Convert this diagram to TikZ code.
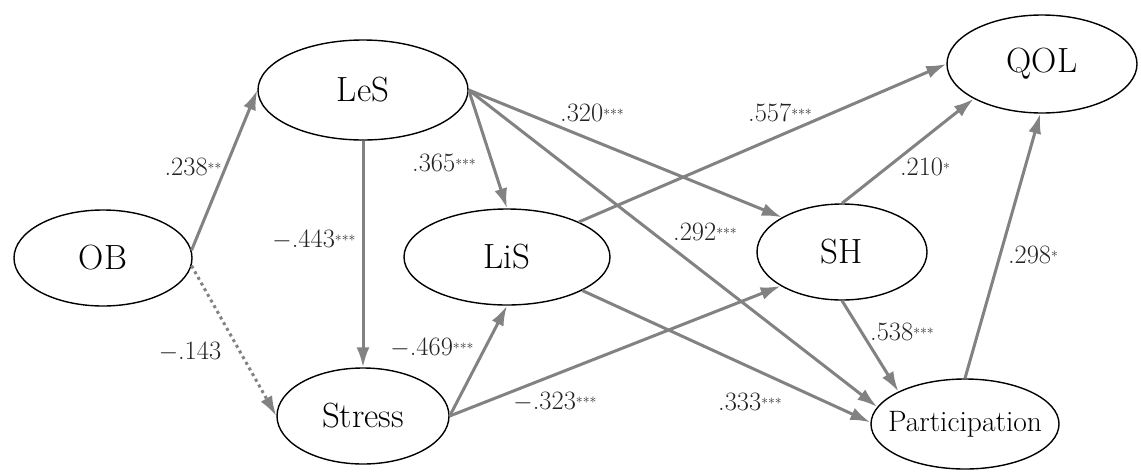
\documentclass[tikz,border=0pt]{standalone}
\usetikzlibrary{shapes.geometric,arrows.meta}
\definecolor{arrgray}{RGB}{130,130,130}
\definecolor{lblgray}{RGB}{35,35,35}
\newcommand\sigstar[1]{\raisebox{2pt}{\fontsize{14}{14}\selectfont #1}}
\begin{document}
\begin{tikzpicture}[x=1pt,y=-1pt,
  lat/.style={ellipse, draw=black, line width=1.4pt, inner sep=0pt,
    font=\fontsize{35}{35}\selectfont},
  arr/.style={draw=arrgray, line width=3pt, line cap=butt,
    -{Latex[length=20pt,width=13pt]}},
  lbl/.style={font=\fontsize{26.5}{26.5}\selectfont, text=lblgray, inner sep=0pt}]
\useasboundingbox (0,0) rectangle (1141,472);
% latent variables
\node[lat, minimum width=178pt, minimum height=96pt] (OB) at (103,258) {OB};
\node[lat, minimum width=210pt, minimum height=100pt] (LeS) at (363,90) {LeS};
\node[lat, minimum width=206pt, minimum height=96pt] (LiS) at (507,257) {LiS};
\node[lat, minimum width=172pt, minimum height=96pt] (Stress) at (363,416) {Stress};
\node[lat, minimum width=170pt, minimum height=96pt] (SH) at (842,252) {SH};
\node[lat, minimum width=190pt, minimum height=98pt] (QOL) at (1042,64) {QOL};
\node[lat, minimum width=188pt, minimum height=90pt,
  label={[font=\fontsize{29.5}{29.5}\selectfont, inner sep=0pt]center:Participation}] (Part) at (965,424) {};
% paths
\draw[arr] (OB.5) -- (LeS.west);
\draw[arr, dash pattern=on 3pt off 3.5pt] (OB.-5) -- (Stress.west);
\draw[arr] (LeS.south) -- (Stress.north);
\draw[arr] (LeS.east) -- (LiS.north);
\draw[arr] (LeS.east) -- (SH.150);
\draw[arr] (LeS.east) -- (Part.169);
\draw[arr] (LiS.26) -- (QOL.west);
\draw[arr] (LiS.-24) -- (Part.179);
\draw[arr] (Stress.east) -- (LiS.south);
\draw[arr] (Stress.east) -- (SH.209);
\draw[arr] (SH.north) -- (QOL.207);
\draw[arr] (SH.south) -- (Part.154);
\draw[arr] (Part.north) -- (QOL.268);
% coefficients
\node[lbl] (c1) at (193,167) {.238\sigstar{**}};
\node[lbl] (c2) at (190,352) {$-$.143};
\node[lbl] (c3) at (314,240) {$-$.443\sigstar{***}};
\node[lbl] (c4) at (444,163) {.365\sigstar{***}};
\node[lbl] (c5) at (592,113) {.320\sigstar{***}};
\node[lbl] (c6) at (780,113) {.557\sigstar{***}};
\node[lbl] (c7) at (705,232) {.292\sigstar{***}};
\node[lbl] (c8) at (925,167) {.210\sigstar{*}};
\node[lbl] (c9) at (1033,255) {.298\sigstar{*}};
\node[lbl] (c10) at (902,332) {.538\sigstar{***}};
\node[lbl] (c11) at (750,402) {.333\sigstar{***}};
\node[lbl] (c12) at (555,402) {$-$.323\sigstar{***}};
\node[lbl] (c13) at (432,348) {$-$.469\sigstar{***}};
\end{tikzpicture}
\end{document}
